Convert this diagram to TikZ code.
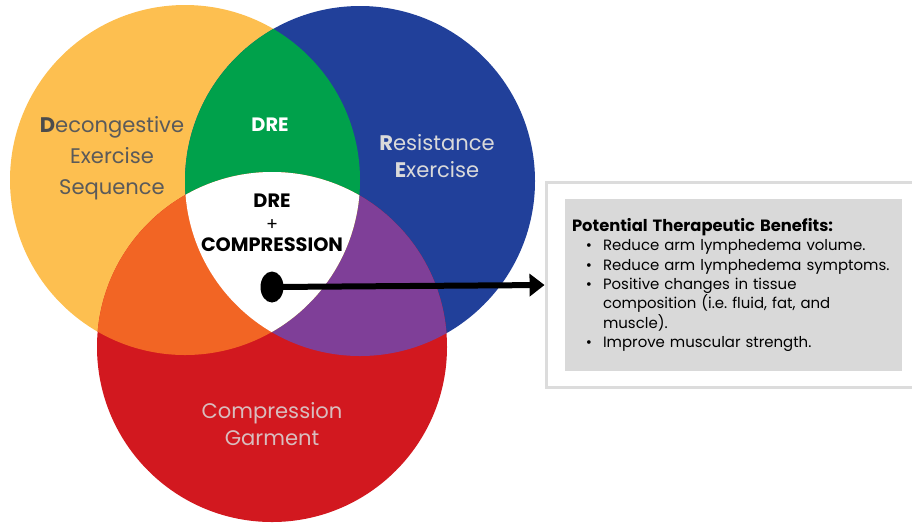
\documentclass[tikz,border=0pt]{standalone}
\usepackage{fontspec}
\setmainfont{Poppins}
\usetikzlibrary{positioning,arrows.meta,shapes.geometric}

\definecolor{decyellow}{HTML}{FDBF50}
\definecolor{resblue}{HTML}{21409A}
\definecolor{comred}{HTML}{D2181F}
\definecolor{dregreen}{HTML}{00A14B}
\definecolor{mixorange}{HTML}{F26524}
\definecolor{mixpurple}{HTML}{7F3F98}
\definecolor{textgray}{HTML}{5A5A5A}
\definecolor{lightgray}{HTML}{DADADA}
\definecolor{panelgray}{HTML}{D9D9D9}
\definecolor{framegray}{HTML}{DCDCDC}

\begin{document}
\begin{tikzpicture}[x=0.02cm,y=-0.02cm,
    setlabel/.style={align=center,font=\fontsize{12}{17.5}\selectfont},
    lenslabel/.style={align=center,font=\bfseries\fontsize{11}{13}\selectfont}]
    \useasboundingbox (0,0) rectangle (912,522);

    % the three sets
    \fill[decyellow] (185,180) circle[radius=175];
    \fill[resblue] (360,181) circle[radius=175];
    \fill[comred] (272,347) circle[radius=175];
    \begin{scope}
        \clip (360,181) circle[radius=175];
        \fill[mixpurple] (272,347) circle[radius=175];
    \end{scope}
    \begin{scope}
        \clip (185,180) circle[radius=175];
        \fill[dregreen] (360,181) circle[radius=175];
        \fill[mixorange] (272,347) circle[radius=175];
        \clip (360,181) circle[radius=175];
        \fill[white] (272,347) circle[radius=175];
    \end{scope}

    \node[setlabel,text=textgray] (dec) at (112,158)
        {{\bfseries\color{black!70}D}econgestive\\Exercise\\Sequence};
    \node[setlabel,text=lightgray,font=\fontsize{12}{15.5}\selectfont] (res) at (437,156)
        {{\bfseries R}esistance\\{\bfseries E}xercise};
    \node[setlabel,text=lightgray!85!comred,font=\fontsize{12}{15}\selectfont] (com) at (272,424)
        {Compression\\Garment};
    \node[lenslabel,text=white] (dre) at (270,125) {DRE};
    \node[lenslabel] (both) at (272,223)
        {DRE\\[0pt]{\mdseries\fontsize{10}{10}\selectfont+}\\[-1pt]COMPRESSION};

    % benefits box
    \node[draw=framegray,line width=0.06cm,minimum width=7.8cm,minimum height=4.1cm] (frame) at (741,285) {};
    \node[fill=panelgray,minimum width=6.74cm,minimum height=3.44cm,text width=6.46cm,
          inner xsep=0.14cm,font=\fontsize{8.5}{11}\selectfont] (benefits) at (733.5,285)
        {{\fontsize{9.3}{11}\selectfont\textbf{Potential Therapeutic Benefits:}}
         \begin{list}{\textbullet}{\setlength{\leftmargin}{0.62cm}\setlength{\labelsep}{0.22cm}%
             \setlength{\itemsep}{0pt}\setlength{\parsep}{0pt}\setlength{\topsep}{0pt}}
         \item Reduce arm lymphedema volume.
         \item Reduce arm lymphedema symptoms.
         \item Positive changes in tissue\\composition (i.e.\ fluid, fat, and\\muscle).
         \item Improve muscular strength.
         \end{list}};

    \node[ellipse,fill=black,inner sep=0pt,minimum width=0.46cm,minimum height=0.62cm] (dot) at (272,287) {};
    \draw[line width=0.12cm,-{Triangle[length=0.3cm,width=0.44cm]}] (dot.center) -- (frame.west);
\end{tikzpicture}
\end{document}
